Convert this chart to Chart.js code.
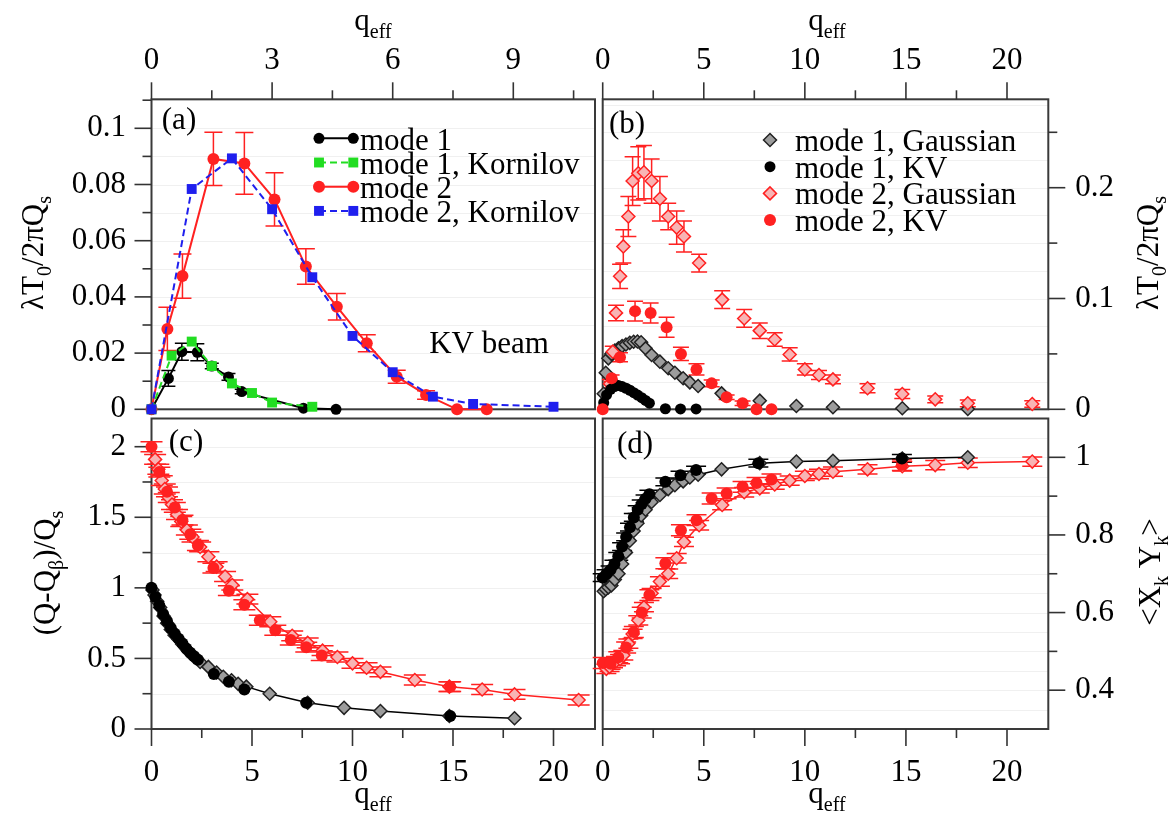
<!DOCTYPE html>
<html lang="en">
<head>
<meta charset="UTF-8">
<title>Head-tail modes versus q_eff</title>
<script src="https://cdn.jsdelivr.net/npm/chart.js@4"></script>
<style>
  body { margin: 0; background: #fff; font-family: "Liberation Serif", serif; }
  #wrap { position: relative; width: 1171px; height: 819px; background: #fff; }
  #wrap canvas { position: absolute; left: 0; top: 0; }
  #fontwarm { position: absolute; left: -9999px; top: 0; font-family: "Liberation Serif"; font-size: 31px; }
</style>
</head>
<body>
<div id="fontwarm">mode 1, Kornilov 0.08</div>
<div id="wrap">
  <canvas id="pa" width="1171" height="819"></canvas>
  <canvas id="pb" width="1171" height="819"></canvas>
  <canvas id="pc" width="1171" height="819"></canvas>
  <canvas id="pd" width="1171" height="819"></canvas>
</div>
<script>
// ---- panel (a): KV beam growth rates (x on the top q_eff scale) ----
const aMode1X = [0, 0.42, 0.755, 1.14, 1.5, 1.915, 2.245, 3.78, 4.59];
const aMode1Y = [0, 0.011, 0.0205, 0.0203, 0.0154, 0.0115, 0.0063, 0.0004, 0];
const aMode1Err = [0, 0.0028, 0.003, 0.003, 0.001, 0.0012, 0.0008, 0, 0];
const aKorn1X = [0, 0.5, 1, 1.5, 2, 2.5, 3, 4];
const aKorn1Y = [0, 0.0191, 0.0241, 0.0154, 0.0092, 0.0058, 0.0024, 0.0009];
const aMode2X = [0, 0.395, 0.77, 1.54, 2.31, 3.06, 3.84, 4.61, 5.355, 6.1, 6.83, 7.6, 8.34];
const aMode2Y = [0, 0.0286, 0.0474, 0.0891, 0.0875, 0.0747, 0.0508, 0.0365, 0.0235, 0.0116, 0.0051, 0, 0];
const aMode2Err = [0, 0.0077, 0.0079, 0.0095, 0.011, 0.0095, 0.0063, 0.0047, 0.003, 0.0023, 0.0015, 0, 0];
const aKorn2X = [0, 1, 2, 3, 4, 5, 6, 7, 8, 10];
const aKorn2Y = [0, 0.0784, 0.0893, 0.0712, 0.047, 0.0261, 0.0132, 0.0045, 0.0019, 0.0009];

// ---- panel (b): growth rates, Gaussian vs KV ----
const bGauss1X = [0.05, 0.15, 0.28, 0.43, 0.6, 0.78, 0.96, 1.15, 1.34, 1.53, 1.72, 1.9, 2.12, 2.42, 2.83, 3.24, 3.57, 3.98, 4.31, 4.72, 5.88, 7.77, 9.58, 11.39, 14.82, 18.06];
const bGauss1Y = [0.014, 0.033, 0.046, 0.05, 0.053, 0.055, 0.057, 0.0585, 0.06, 0.061, 0.0612, 0.0605, 0.055, 0.049, 0.043, 0.037, 0.033, 0.028, 0.0243, 0.021, 0.0144, 0.0078, 0.003, 0.0018, 0.0009, 0.0003];
const bKV1X = [0.05, 0.19, 0.39, 0.58, 0.77, 0.96, 1.16, 1.35, 1.54, 1.73, 1.93, 2.12, 2.31, 3.1, 3.85, 4.62];
const bKV1Y = [0.006, 0.013, 0.018, 0.0205, 0.0215, 0.0205, 0.019, 0.0172, 0.015, 0.0128, 0.0105, 0.008, 0.0055, 0.0005, 0.0003, 0.0003];
const bGauss2X = [0.36, 0.5, 0.66, 0.86, 1.02, 1.27, 1.48, 1.76, 2.04, 2.42, 2.83, 3.24, 3.66, 4.02, 4.77, 5.91, 7.0, 7.77, 8.51, 9.25, 10.0, 10.7, 11.39, 13.1, 14.82, 16.45, 18.06, 21.25];
const bGauss2Y = [0.023, 0.052, 0.087, 0.12, 0.147, 0.174, 0.206, 0.213, 0.214, 0.206, 0.19, 0.174, 0.164, 0.156, 0.132, 0.099, 0.082, 0.071, 0.063, 0.0495, 0.036, 0.031, 0.027, 0.019, 0.0138, 0.009, 0.0054, 0.0048];
const bGauss2Err = [0.004, 0.005, 0.007, 0.011, 0.015, 0.018, 0.022, 0.024, 0.024, 0.02, 0.02, 0.012, 0.015, 0.014, 0.008, 0.008, 0.008, 0.007, 0.006, 0.006, 0.005, 0.004, 0.004, 0.004, 0.004, 0.003, 0.003, 0.003];
const bKV2X = [0, 0.44, 0.855, 1.6, 2.37, 3.16, 3.87, 4.64, 5.39, 6.13, 6.92, 7.61, 8.35];
const bKV2Y = [0, 0.028, 0.047, 0.0886, 0.087, 0.074, 0.05, 0.036, 0.0234, 0.0108, 0.0054, 0, 0];
const bKV2Err = [0, 0.003, 0.004, 0.009, 0.009, 0.009, 0.006, 0.005, 0.003, 0.002, 0.002, 0, 0];

// ---- panel (c): tune shift (Q-Qb)/Qs ----
const cKV1X = [0, 0.19, 0.39, 0.58, 0.77, 0.96, 1.16, 1.35, 1.54, 1.73, 1.93, 2.12, 2.31, 3.1, 3.85, 4.62, 7.7, 14.86];
const cKV1Y = [1.0, 0.935, 0.875, 0.815, 0.765, 0.715, 0.675, 0.64, 0.605, 0.57, 0.54, 0.515, 0.49, 0.39, 0.335, 0.28, 0.186, 0.092];
const cGauss1X = [0.05, 0.15, 0.28, 0.43, 0.6, 0.78, 0.96, 1.15, 1.34, 1.53, 1.72, 1.9, 2.12, 2.42, 2.83, 3.24, 3.57, 3.98, 4.31, 4.72, 5.88, 7.77, 9.58, 11.39, 14.82, 18.06];
const cGauss1Y = [0.985, 0.95, 0.905, 0.86, 0.8, 0.75, 0.705, 0.665, 0.635, 0.6, 0.57, 0.54, 0.51, 0.475, 0.44, 0.4, 0.37, 0.345, 0.32, 0.3, 0.25, 0.186, 0.15, 0.127, 0.092, 0.076];
const cKV2X = [0, 0.39, 0.77, 1.16, 1.54, 1.93, 2.31, 3.08, 3.85, 4.62, 5.39, 6.16, 6.93, 7.7, 8.47, 14.86];
const cKV2Y = [2.0, 1.82, 1.68, 1.57, 1.48, 1.38, 1.3, 1.14, 0.98, 0.88, 0.77, 0.7, 0.63, 0.58, 0.52, 0.3];
const cGauss2X = [0.18, 0.34, 0.51, 0.66, 0.86, 1.02, 1.27, 1.48, 1.76, 2.04, 2.42, 2.83, 3.24, 3.66, 4.02, 4.77, 5.91, 7.0, 7.77, 8.51, 9.25, 10.0, 10.7, 11.39, 13.1, 14.82, 16.45, 18.06, 21.25];
const cGauss2Y = [1.91, 1.84, 1.76, 1.7, 1.64, 1.59, 1.52, 1.47, 1.41, 1.36, 1.29, 1.22, 1.15, 1.08, 1.02, 0.92, 0.76, 0.66, 0.61, 0.555, 0.51, 0.465, 0.434, 0.405, 0.347, 0.3, 0.28, 0.245, 0.205];

// ---- panel (d): <XkYk> ----
const dKV1X = [0, 0.19, 0.39, 0.58, 0.77, 0.96, 1.16, 1.35, 1.54, 1.73, 1.93, 2.12, 2.31, 3.1, 3.85, 4.62, 7.7, 14.8];
const dKV1Y = [0.69, 0.7, 0.71, 0.725, 0.745, 0.77, 0.795, 0.82, 0.845, 0.865, 0.88, 0.893, 0.905, 0.937, 0.954, 0.967, 0.985, 0.997];
const dGauss1X = [0.05, 0.15, 0.28, 0.43, 0.6, 0.78, 0.96, 1.15, 1.34, 1.53, 1.72, 1.9, 2.12, 2.42, 2.83, 3.24, 3.57, 3.98, 4.31, 4.72, 5.88, 7.77, 9.58, 11.39, 14.82, 18.06];
const dGauss1Y = [0.655, 0.66, 0.665, 0.67, 0.685, 0.7, 0.725, 0.755, 0.785, 0.81, 0.83, 0.85, 0.865, 0.885, 0.903, 0.918, 0.928, 0.938, 0.948, 0.955, 0.969, 0.985, 0.989, 0.991, 0.997, 1.0];
const dKV2X = [0, 0.39, 0.77, 1.16, 1.54, 1.93, 2.31, 3.1, 3.87, 4.64, 5.39, 6.13, 6.92, 7.61, 8.35, 14.8];
const dKV2Y = [0.47, 0.468, 0.485, 0.51, 0.55, 0.6, 0.645, 0.727, 0.812, 0.838, 0.894, 0.907, 0.924, 0.934, 0.943, 0.98];
const dGauss2X = [0.18, 0.34, 0.51, 0.66, 0.86, 1.02, 1.27, 1.48, 1.76, 2.04, 2.42, 2.83, 3.24, 3.66, 4.02, 4.77, 5.91, 7.0, 7.77, 8.51, 9.25, 10.0, 10.7, 11.39, 13.1, 14.82, 16.45, 18.06, 21.25];
const dGauss2Y = [0.455, 0.46, 0.47, 0.475, 0.48, 0.49, 0.52, 0.545, 0.58, 0.614, 0.65, 0.68, 0.7, 0.74, 0.782, 0.825, 0.877, 0.91, 0.92, 0.93, 0.94, 0.952, 0.957, 0.963, 0.969, 0.977, 0.98, 0.986, 0.989];

// ---- axis ticks ----
const topTicksA = [0, 3, 6, 9];
const qTicks = [0, 5, 10, 15, 20];
const yTicksA = [0, 0.02, 0.04, 0.06, 0.08, 0.1];
const yTicksB = [0, 0.1, 0.2];
const yTicksC = [0, 0.5, 1, 1.5, 2];
const yTicksD = [0.4, 0.6, 0.8, 1];

const FONT = '"Liberation Serif"';
const RED = '#ff2121', GREEN = '#22dd22', BLUE = '#1f1fee', PINK = '#f8b4b4', GREY = '#9c9c9c';
const W = 1171, H = 819;
Chart.defaults.font.family = FONT;

function range(a, b, s) { const out = []; for (let v = a; v <= b + 1e-9; v += s) out.push(+v.toFixed(4)); return out; }

function series(xs, ys, style) {
  return Object.assign({
    data: xs.map((x, i) => ({ x: x, y: ys[i] })),
    clip: false, showLine: false, tension: 0, borderWidth: 2, pointBorderWidth: 1.5
  }, style);
}

function axis(pos, min, max, majors, size, pad) {
  const vertical = pos === 'left' || pos === 'right';
  return {
    type: 'linear', position: pos, min: min, max: max, bounds: 'data',
    afterBuildTicks: s => { s.ticks = majors.map(v => ({ value: v })); },
    afterFit: s => { if (vertical) s.width = size; else s.height = size; },
    grid: { display: false, drawTicks: false },
    border: { display: false },
    ticks: {
      padding: pad, color: '#000', autoSkip: false, maxRotation: 0,
      font: { family: FONT, size: 31 },
      callback: v => String(Math.round(v * 1000) / 1000)
    }
  };
}

function mark(ctx, style, x, y, r, fill, stroke, lw) {
  ctx.beginPath();
  if (style === 'circle') ctx.arc(x, y, r, 0, Math.PI * 2);
  else if (style === 'rect') { const s = r * Math.SQRT1_2; ctx.rect(x - s, y - s, 2 * s, 2 * s); }
  else { ctx.moveTo(x - r, y); ctx.lineTo(x, y - r); ctx.lineTo(x + r, y); ctx.lineTo(x, y + r); ctx.closePath(); }
  ctx.fillStyle = fill; ctx.fill();
  if (lw) { ctx.lineWidth = lw; ctx.strokeStyle = stroke; ctx.stroke(); }
}

// text with subscripts: parts = [[text, isSub], ...]
function rich(ctx, parts, x, y, rot, size) {
  const sub = Math.round(size * 0.66);
  ctx.save();
  ctx.translate(x, y);
  if (rot) ctx.rotate(-Math.PI / 2);
  ctx.fillStyle = '#000';
  ctx.textBaseline = 'alphabetic';
  let total = 0;
  parts.forEach(p => { ctx.font = (p[1] ? sub : size) + 'px ' + FONT; total += ctx.measureText(p[0]).width; });
  let cx = -total / 2;
  parts.forEach(p => {
    ctx.font = (p[1] ? sub : size) + 'px ' + FONT;
    ctx.fillText(p[0], cx, p[1] ? size * 0.27 : 0);
    cx += ctx.measureText(p[0]).width;
  });
  ctx.restore();
}

function deco(spec) {
  return {
    id: 'deco',
    beforeDatasetsDraw(chart) {
      const ctx = chart.ctx, a = chart.chartArea;
      ctx.save();
      // faint horizontal grid
      const gs = chart.scales[spec.grid.axis];
      ctx.strokeStyle = '#f0f0f0'; ctx.lineWidth = 1;
      spec.grid.values.forEach(v => {
        const p = Math.round(gs.getPixelForValue(v)) + 0.5;
        ctx.beginPath(); ctx.moveTo(a.left, p); ctx.lineTo(a.right, p); ctx.stroke();
      });
      // frame
      ctx.strokeStyle = '#3a3a3a'; ctx.lineWidth = 2;
      ctx.strokeRect(a.left, a.top, a.right - a.left, a.bottom - a.top);
      // outward tick marks
      ctx.lineWidth = 1.6; ctx.strokeStyle = '#333';
      spec.ticks.forEach(t => {
        const sc = chart.scales[t.axis];
        const one = (v, len) => {
          const p = sc.getPixelForValue(v);
          ctx.beginPath();
          if (t.side === 'left') { ctx.moveTo(a.left, p); ctx.lineTo(a.left - len, p); }
          else if (t.side === 'right') { ctx.moveTo(a.right, p); ctx.lineTo(a.right + len, p); }
          else if (t.side === 'top') { ctx.moveTo(p, a.top); ctx.lineTo(p, a.top - len); }
          else { ctx.moveTo(p, a.bottom); ctx.lineTo(p, a.bottom + len); }
          ctx.stroke();
        };
        t.major.forEach(v => one(v, 17));
        t.minor.forEach(v => one(v, 9));
      });
      // error bars
      chart.data.datasets.forEach((ds, i) => {
        if (!ds.errY) return;
        const meta = chart.getDatasetMeta(i);
        const xs = chart.scales[meta.xAxisID], ys = chart.scales[meta.yAxisID];
        const c = ds.capHalf || 7;
        ctx.strokeStyle = ds.errColor || ds.pointBorderColor;
        ctx.lineWidth = 1.5;
        ds.data.forEach((p, j) => {
          const e = ds.errY[j];
          if (!e) return;
          const px = xs.getPixelForValue(p.x);
          const y1 = ys.getPixelForValue(p.y - e), y2 = ys.getPixelForValue(p.y + e);
          ctx.beginPath();
          ctx.moveTo(px, y1); ctx.lineTo(px, y2);
          ctx.moveTo(px - c, y1); ctx.lineTo(px + c, y1);
          ctx.moveTo(px - c, y2); ctx.lineTo(px + c, y2);
          ctx.stroke();
        });
      });
      ctx.restore();
    },
    afterDraw(chart) {
      const ctx = chart.ctx, a = chart.chartArea;
      ctx.save();
      if (spec.legend) {
        const L = spec.legend;
        L.items.forEach((it, k) => {
          const ds = chart.data.datasets[it.ds];
          const y = a.top + L.y0 + k * L.dy;
          if (L.line) {
            ctx.strokeStyle = ds.borderColor; ctx.lineWidth = 2;
            ctx.setLineDash(ds.borderDash || []);
            ctx.beginPath(); ctx.moveTo(a.left + L.x0, y); ctx.lineTo(a.left + L.x1, y); ctx.stroke();
            ctx.setLineDash([]);
            mark(ctx, ds.pointStyle, a.left + L.x0, y, ds.pointRadius, ds.pointBackgroundColor, ds.pointBorderColor, ds.pointBorderWidth);
          }
          mark(ctx, ds.pointStyle, a.left + L.x1, y, ds.pointRadius, ds.pointBackgroundColor, ds.pointBorderColor, ds.pointBorderWidth);
          ctx.fillStyle = '#000'; ctx.font = '31px ' + FONT; ctx.textBaseline = 'alphabetic';
          ctx.fillText(it.label, a.left + L.tx, y + L.base);
        });
      }
      spec.texts.forEach(t => rich(ctx, t.parts, t.x, t.y, t.rot, t.size || 31));
      ctx.restore();
    }
  };
}

const charts = [];
function makeChart(id, datasets, scales, pad, spec) {
  charts.push(new Chart(document.getElementById(id), {
    type: 'scatter',
    data: { datasets: datasets },
    options: {
      responsive: false, animation: false, events: [],
      layout: { padding: pad },
      scales: scales,
      plugins: { legend: { display: false }, tooltip: { enabled: false } }
    },
    plugins: [deco(spec)]
  }));
}

const qeff = [['q', 0], ['eff', 1]];
const lamT = [['\u03bbT', 0], ['0', 1], ['/2\u03c0Q', 0], ['s', 1]];

// panel geometry (plot areas)
const LA = 151.5, RA = 595, LB = 602.7, RB = 1048.3, T1 = 99.3, B1 = 409.3, T2 = 418.5, B2 = 729;

// ---- (a) ----
makeChart('pa', [
  series(aKorn2X, aKorn2Y, { xAxisID: 'xt', yAxisID: 'y', showLine: true, borderColor: BLUE, borderDash: [7, 4], pointStyle: 'rect', pointRadius: 7, pointBackgroundColor: BLUE, pointBorderColor: BLUE, pointBorderWidth: 0 }),
  series(aKorn1X, aKorn1Y, { xAxisID: 'xt', yAxisID: 'y', showLine: true, borderColor: GREEN, borderDash: [7, 4], pointStyle: 'rect', pointRadius: 7, pointBackgroundColor: GREEN, pointBorderColor: GREEN, pointBorderWidth: 0 }),
  series(aMode2X, aMode2Y, { xAxisID: 'xt', yAxisID: 'y', showLine: true, borderColor: RED, pointStyle: 'circle', pointRadius: 6, pointBackgroundColor: RED, pointBorderColor: RED, pointBorderWidth: 0, errY: aMode2Err, capHalf: 9 }),
  series(aMode1X, aMode1Y, { xAxisID: 'xt', yAxisID: 'y', showLine: true, borderColor: '#000', pointStyle: 'circle', pointRadius: 5.5, pointBackgroundColor: '#000', pointBorderColor: '#000', pointBorderWidth: 0, errY: aMode1Err, capHalf: 7 })
], {
  xt: axis('top', 0, (RA - LA) / 40.2, topTicksA, 70, 20),
  y: axis('left', 0, (B1 - T1) / 2810, yTicksA, 90, 25.5)
}, { left: LA - 90, top: T1 - 70, right: W - RA, bottom: H - B1 }, {
  grid: { axis: 'y', values: range(0.01, 0.11, 0.01) },
  ticks: [
    { axis: 'xt', side: 'top', major: topTicksA, minor: [1.5, 4.5, 7.5, 10.5] },
    { axis: 'y', side: 'left', major: yTicksA, minor: [0.01, 0.03, 0.05, 0.07, 0.09, 0.11] }
  ],
  legend: { line: true, x0: 167.5, x1: 201.8, tx: 208.5, y0: 39, dy: 24.2, base: 11.5,
    items: [{ ds: 3, label: 'mode 1' }, { ds: 1, label: 'mode 1, Kornilov' }, { ds: 2, label: 'mode 2' }, { ds: 0, label: 'mode 2, Kornilov' }] },
  texts: [
    { parts: [['(a)', 0]], x: 179, y: 129 },
    { parts: [['KV beam', 0]], x: 489, y: 353 },
    { parts: qeff, x: 373, y: 30 },
    { parts: lamT, x: 43, y: 253, rot: true }
  ]
});

// ---- (b) ----
makeChart('pb', [
  series(bKV2X, bKV2Y, { pointStyle: 'circle', pointRadius: 6, pointBackgroundColor: RED, pointBorderColor: RED, pointBorderWidth: 0, errY: bKV2Err, capHalf: 8 }),
  series(bKV1X, bKV1Y, { pointStyle: 'circle', pointRadius: 5.5, pointBackgroundColor: '#000', pointBorderColor: '#000', pointBorderWidth: 0 }),
  series(bGauss2X, bGauss2Y, { pointStyle: 'rectRot', pointRadius: 6.5, pointBackgroundColor: PINK, pointBorderColor: RED, pointBorderWidth: 1.5, errY: bGauss2Err, capHalf: 8 }),
  series(bGauss1X, bGauss1Y, { pointStyle: 'rectRot', pointRadius: 6.5, pointBackgroundColor: GREY, pointBorderColor: '#222', pointBorderWidth: 1.5 })
], {
  x: axis('top', 0, (RB - LB) / 20.215, qTicks, 70, 20),
  y: axis('right', 0, (B1 - T1) / 1108, yTicksB, 90, 27)
}, { left: LB, top: T1 - 70, right: W - RB - 90, bottom: H - B1 }, {
  grid: { axis: 'y', values: range(0.025, 0.275, 0.025) },
  ticks: [
    { axis: 'x', side: 'top', major: qTicks, minor: [2.5, 7.5, 12.5, 17.5] },
    { axis: 'y', side: 'right', major: yTicksB, minor: [0.05, 0.15, 0.25] }
  ],
  legend: { line: false, x1: 167.3, tx: 192.3, y0: 40.7, dy: 26.7, base: 11,
    items: [{ ds: 3, label: 'mode 1, Gaussian' }, { ds: 1, label: 'mode 1, KV' }, { ds: 2, label: 'mode 2, Gaussian' }, { ds: 0, label: 'mode 2, KV' }] },
  texts: [
    { parts: [['(b)', 0]], x: 627, y: 133 },
    { parts: qeff, x: 827, y: 30 },
    { parts: lamT, x: 1158, y: 253, rot: true }
  ]
});

// ---- (c) ----
makeChart('pc', [
  series(cKV1X, cKV1Y, { pointStyle: 'circle', pointRadius: 6, pointBackgroundColor: '#000', pointBorderColor: '#000', pointBorderWidth: 0 }),
  series(cKV2X, cKV2Y, { pointStyle: 'circle', pointRadius: 6, pointBackgroundColor: RED, pointBorderColor: RED, pointBorderWidth: 0, errY: cKV2X.map(() => 0.035), capHalf: 11 }),
  series(cGauss1X, cGauss1Y, { showLine: true, borderWidth: 1.5, borderColor: '#000', pointStyle: 'rectRot', pointRadius: 6.5, pointBackgroundColor: GREY, pointBorderColor: '#222', pointBorderWidth: 1.5 }),
  series(cGauss2X, cGauss2Y, { showLine: true, borderWidth: 1.5, borderColor: RED, pointStyle: 'rectRot', pointRadius: 6.5, pointBackgroundColor: PINK, pointBorderColor: RED, pointBorderWidth: 1.5, errY: cGauss2X.map(() => 0.035), capHalf: 11 })
], {
  x: axis('bottom', 0, (RA - LA) / 20.1, qTicks, 70, 25),
  y: axis('left', 0, (B2 - T2) / 141.15, yTicksC, 90, 25.5)
}, { left: LA - 90, top: T2, right: W - RA, bottom: H - B2 - 70 }, {
  grid: { axis: 'y', values: range(0.25, 2, 0.25) },
  ticks: [
    { axis: 'x', side: 'bottom', major: qTicks, minor: [2.5, 7.5, 12.5, 17.5] },
    { axis: 'y', side: 'left', major: yTicksC, minor: [0.25, 0.75, 1.25, 1.75] }
  ],
  texts: [
    { parts: [['(c)', 0]], x: 186, y: 451 },
    { parts: qeff, x: 373, y: 803 },
    { parts: [['(Q-Q', 0], ['\u03b2', 1], [')/Q', 0], ['s', 1]], x: 55, y: 573, rot: true }
  ]
});

// ---- (d) ----
makeChart('pd', [
  series(dKV1X, dKV1Y, { pointStyle: 'circle', pointRadius: 6, pointBackgroundColor: '#000', pointBorderColor: '#000', pointBorderWidth: 0, errY: dKV1X.map(() => 0.01), capHalf: 10 }),
  series(dKV2X, dKV2Y, { pointStyle: 'circle', pointRadius: 6, pointBackgroundColor: RED, pointBorderColor: RED, pointBorderWidth: 0, errY: dKV2X.map(() => 0.014), capHalf: 10 }),
  series(dGauss1X, dGauss1Y, { showLine: true, borderWidth: 1.5, borderColor: '#000', pointStyle: 'rectRot', pointRadius: 6.5, pointBackgroundColor: GREY, pointBorderColor: '#222', pointBorderWidth: 1.5 }),
  series(dGauss2X, dGauss2Y, { showLine: true, borderWidth: 1.5, borderColor: RED, pointStyle: 'rectRot', pointRadius: 6.5, pointBackgroundColor: PINK, pointBorderColor: RED, pointBorderWidth: 1.5, errY: dGauss2X.map(() => 0.012), capHalf: 10 })
], {
  x: axis('bottom', 0, (RB - LB) / 20.215, qTicks, 70, 25),
  y: axis('right', 0.3, 1.1, yTicksD, 90, 27)
}, { left: LB, top: T2, right: W - RB - 90, bottom: H - B2 - 70 }, {
  grid: { axis: 'y', values: range(0.35, 1.05, 0.05) },
  ticks: [
    { axis: 'x', side: 'bottom', major: qTicks, minor: [2.5, 7.5, 12.5, 17.5] },
    { axis: 'y', side: 'right', major: yTicksD, minor: [0.5, 0.7, 0.9] }
  ],
  texts: [
    { parts: [['(d)', 0]], x: 635, y: 453 },
    { parts: qeff, x: 827, y: 803 },
    { parts: [['<X', 0], ['k', 1], [' Y', 0], ['k', 1], ['>', 0]], x: 1160, y: 572, rot: true }
  ]
});

// redraw once the serif face is surely available to the canvas
if (document.fonts && document.fonts.load) {
  document.fonts.load('31px "Liberation Serif"').then(() => charts.forEach(c => c.update('none')));
}
</script>
</body>
</html>
